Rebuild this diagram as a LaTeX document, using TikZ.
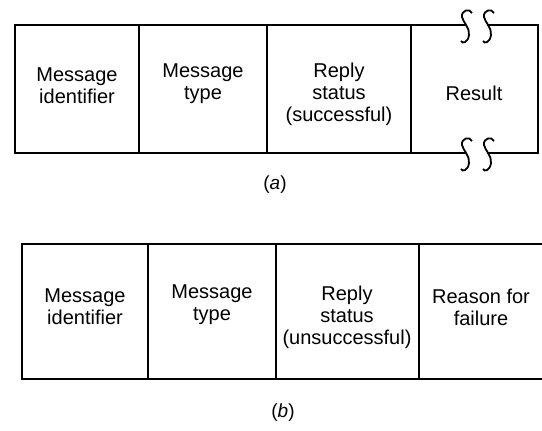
\documentclass[tikz,border=0pt]{standalone}
\usepackage{fontspec}
\setmainfont{Liberation Sans}
\usetikzlibrary{calc}

\begin{document}
\begin{tikzpicture}[x=1pt,y=-1pt,line width=1.8pt,
  feld/.style={align=center,inner sep=0pt,font=\fontsize{20}{22}\selectfont},
  marke/.style={inner sep=0pt,font=\fontsize{19}{22}\selectfont}]
  \useasboundingbox (0,0) rectangle (542,431);
  % Rahmen (a)
  \draw (465,25) -- (15,25) -- (15,153) -- (465,153);
  \draw (487,25) -- (538,25) -- (538,153) -- (487,153);
  \draw \foreach\x in {139,267,411} { (\x,25)--(\x,153) };
  % Bruchstellen
  \foreach\x in {465,487} \foreach\y in {25,153}
    \draw[shift={(\x,\y)}] (7,-12) .. controls (5,-17) and (-4,-15) .. (-3,-8)
      .. controls (-2,-3) and (5,3) .. (4,10) .. controls (3,18) and (-3,19) .. (-4,16);
  % Felder (a)
  \node[feld] (idA) at (77,86) {Message\\identifier};
  \node[feld] (typA) at (203,84) {Message\\type};
  \node[feld] (repA) at (339,94) {Reply\\status\\(successful)};
  \node[feld] (resA) at (474,93) {Result};
  \node[marke] (labA) at (275,185) {(\textit{a})};
  % Rahmen (b)
  \draw (542,244) -- (22,244) -- (22,379) -- (542,379);
  \draw \foreach\x in {148,276,419} { (\x,244)--(\x,379) };
  % Felder (b)
  \node[feld] (idB) at (85,307) {Message\\identifier};
  \node[feld] (typB) at (212,305) {Message\\type};
  \node[feld] (repB) at (347,317) {Reply\\status\\(unsuccessful)};
  \node[feld] (reaB) at (481,307) {Reason for\\failure};
  \node[marke] (labB) at (283,413) {(\textit{b})};
\end{tikzpicture}
\end{document}
